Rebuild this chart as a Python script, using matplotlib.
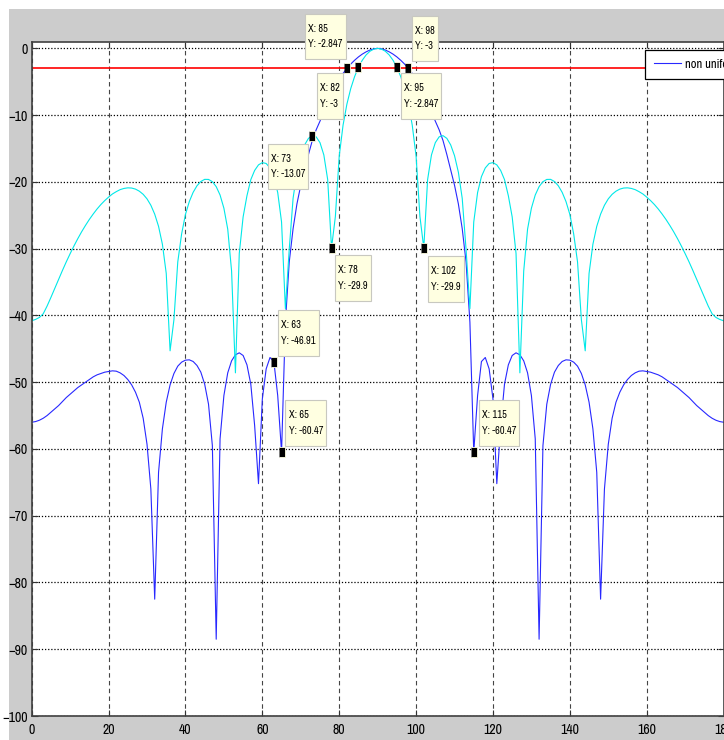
import numpy as np
import matplotlib
matplotlib.use("Agg")
import matplotlib.pyplot as plt
from matplotlib import font_manager
from matplotlib.patches import Rectangle

# sample angles (deg), one per degree
theta_deg = np.arange(0, 181)

# uniform array pattern (dB)
uniform_db = [
    -40.8, -40.6, -40.3, -39.75, -38.6, -37.3, -35.95, -34.6, -33.26, -31.97,
    -30.75, -29.59, -28.49, -27.46, -26.51, -25.62, -24.81, -24.06, -23.39, -22.80,
    -22.28, -21.81, -21.46, -21.16, -20.98, -20.89, -20.92, -21.08, -21.39, -21.86,
    -22.54, -23.5, -24.83, -26.66, -29.33, -33.7, -45.3, -40.65, -31.99, -27.8,
    -24.87, -22.95, -21.56, -20.58, -19.94, -19.62, -19.63, -19.97, -20.71, -21.96,
    -23.94, -27.08, -33.34, -48.6, -30.72, -25.25, -22.07, -19.66, -18.28, -17.45,
    -17.11, -17.24, -17.91, -19.21, -21.59, -26.01, -38.98, -30.09, -22.46, -18.55,
    -16.07, -14.46, -13.48, -13.07, -13.25, -14.12, -15.96, -19.65, -29.9, -25.19,
    -16.15, -11.50, -8.35, -6.02, -4.23, -2.847, -1.78, -0.98, -0.43, -0.11,
    0.0,
    -0.11, -0.43, -0.98, -1.78, -2.847, -4.23, -6.02, -8.35, -11.50, -16.15,
    -25.19, -29.9, -19.65, -15.96, -14.12, -13.25, -13.07, -13.48, -14.46, -16.07,
    -18.55, -22.46, -30.09, -38.98, -26.01, -21.59, -19.21, -17.91, -17.24, -17.11,
    -17.45, -18.28, -19.66, -22.07, -25.25, -30.72, -48.6, -33.34, -27.08, -23.94,
    -21.96, -20.71, -19.97, -19.63, -19.62, -19.94, -20.58, -21.56, -22.95, -24.87,
    -27.8, -31.99, -40.65, -45.3, -33.7, -29.33, -26.66, -24.83, -23.5, -22.54,
    -21.86, -21.39, -21.08, -20.92, -20.89, -20.98, -21.16, -21.46, -21.81, -22.28,
    -22.80, -23.39, -24.06, -24.81, -25.62, -26.51, -27.46, -28.49, -29.59, -30.75,
    -31.97, -33.26, -34.6, -35.95, -37.3, -38.6, -39.75, -40.3, -40.6, -40.8,
]

# non uniform array pattern (dB)
nonuniform_db = [
    -56.0, -55.9, -55.7, -55.4, -55.0, -54.5, -54.0, -53.5, -52.9, -52.3,
    -51.8, -51.3, -50.8, -50.4, -50.0, -49.6, -49.2, -48.9, -48.7, -48.5,
    -48.4, -48.3, -48.35, -48.6, -49.0, -49.6, -50.4, -51.5, -53.0, -55.4,
    -59.3, -66.0, -82.5, -63.5, -57.0, -53.0, -50.4, -48.7, -47.6, -47.0,
    -46.7, -46.65, -46.9, -47.5, -48.5, -50.3, -53.3, -59.5, -88.5, -58.5,
    -52.0, -48.6, -46.8, -45.9, -45.6, -46.0, -47.4, -50.3, -56.5, -65.2,
    -52.5, -48.0, -46.3, -46.91, -52.0, -60.47, -41.0, -32.0, -27.0, -23.3,
    -20.5, -18.2, -15.9, -13.8, -12.2, -10.9, -9.5, -8.1, -6.8, -5.6,
    -4.6, -3.75, -3.0, -2.35, -1.78, -1.28, -0.86, -0.52, -0.25, -0.07,
    0.0,
    -0.07, -0.25, -0.52, -0.86, -1.28, -1.78, -2.35, -3.0, -3.75, -4.6,
    -5.6, -6.8, -8.1, -9.5, -10.9, -12.2, -13.8, -15.9, -18.2, -20.5,
    -23.3, -27.0, -32.0, -41.0, -60.47, -52.0, -46.91, -46.3, -48.0, -52.5,
    -65.2, -56.5, -50.3, -47.4, -46.0, -45.6, -45.9, -46.8, -48.6, -52.0,
    -58.5, -88.5, -59.5, -53.3, -50.3, -48.5, -47.5, -46.9, -46.65, -46.7,
    -47.0, -47.6, -48.7, -50.4, -53.0, -57.0, -63.5, -82.5, -66.0, -59.3,
    -55.4, -53.0, -51.5, -50.4, -49.6, -49.0, -48.6, -48.35, -48.3, -48.4,
    -48.5, -48.7, -48.9, -49.2, -49.6, -50.0, -50.4, -50.8, -51.3, -51.8,
    -52.3, -52.9, -53.5, -54.0, -54.5, -55.0, -55.4, -55.7, -55.9, -56.0,
]

half_power_db = -3

# data tips shown on the figure
tip_x = [85, 82, 98, 95, 73, 78, 63, 65, 102, 115]
tip_y = [-2.847, -3, -3, -2.847, -13.07, -29.9, -46.91, -60.47, -29.9, -60.47]

x_ticks = [0, 20, 40, 60, 80, 100, 120, 140, 160, 180]
y_ticks = [0, -10, -20, -30, -40, -50, -60, -70, -80, -90, -100]

# where each tip box sits relative to its point (pixels)
tip_place = [(-16, 18, "right", "bottom"), (-7, -15, "right", "top"),
             (7, 17, "left", "bottom"), (7, -16, "left", "top"),
             (-7, -18, "right", "top"), (6.5, -17, "left", "top"),
             (7.5, 16, "left", "bottom"), (7, 16, "left", "bottom"),
             (7, -18, "left", "top"), (8, 16, "left", "bottom")]


def pick_narrow_font():
    # the screenshot text is squeezed, so use a narrow face if one is installed
    names = sorted({f.name for f in font_manager.fontManager.ttflist})
    for n in names:
        if "Narrow" in n or "Condensed" in n:
            return n, "normal", True
    for f in font_manager.fontManager.ttflist:
        if str(f.stretch) in ("condensed", "semi-condensed", "extra-condensed"):
            return f.name, "condensed", True
    return "Liberation Sans", "normal", False


font_name, font_stretch, is_narrow = pick_narrow_font()
plt.rcParams["font.family"] = [font_name, "DejaVu Sans"]
plt.rcParams["font.stretch"] = font_stretch
tick_fs = 10 if is_narrow else 8
tip_fs = 7.5 if is_narrow else 6
leg_fs = 9 if is_narrow else 7.5

W, H = 724, 740
fig = plt.figure(figsize=(W / 100, H / 100), dpi=100, facecolor="#cccccc")
# white strip of the screenshot border
fig.patches.append(Rectangle((0, 1 - 9 / H), 1, 9 / H, transform=fig.transFigure,
                             facecolor="white", edgecolor="none", zorder=-1))
fig.patches.append(Rectangle((0, 0), 9 / W, 1, transform=fig.transFigure,
                             facecolor="white", edgecolor="none", zorder=-1))

ax_l, ax_r, ax_t, ax_b = 31.7, 723.6, 41.7, 716.0
ax = fig.add_axes([ax_l / W, 1 - ax_b / H, (ax_r - ax_l) / W, (ax_b - ax_t) / H])
ax.set_facecolor("white")

ax.plot(theta_deg, nonuniform_db, color="#2828ff", lw=0.8, label="non uniform")
ax.plot(theta_deg, uniform_db, color="#00e8e8", lw=0.8)
ax.axhline(half_power_db, color="#ff0000", lw=1.2)

ax.set_xlim(0, 180)
ax.set_ylim(-100, 1)
ax.set_xticks(x_ticks)
ax.set_yticks(y_ticks)
ax.tick_params(direction="in", length=4, width=0.8, labelsize=tick_fs, top=True, right=True,
               colors="#333333", labelcolor="black")
ax.tick_params(axis="x", pad=5)
ax.tick_params(axis="y", pad=3)

ax.yaxis.grid(True, linestyle=(0, (1, 1.5)), color="black", lw=0.9)
ax.xaxis.grid(True, linestyle=(0, (4, 3)), color="#444444", lw=0.8)
for sp in ax.spines.values():
    sp.set_color("#404040")
    sp.set_linewidth(1.2)

# data tips
tall_square = [(-0.6, -1), (0.6, -1), (0.6, 1), (-0.6, 1)]
ax.plot(tip_x, tip_y, linestyle="none", marker=tall_square, markersize=7,
        markerfacecolor="black", markeredgecolor="#ffffe1", markeredgewidth=0.6, zorder=5)
for x, y, (dx, dy, ha, va) in zip(tip_x, tip_y, tip_place):
    ax.annotate(f"X: {x:g}\nY: {y:g}", xy=(x, y), xytext=(dx, dy),
                textcoords="offset pixels", ha=ha, va=va, fontsize=tip_fs,
                linespacing=1.7, multialignment="left", zorder=6,
                bbox=dict(boxstyle="square,pad=0.3", mutation_aspect=3.2,
                          fc="#ffffe1", ec="#c8c8c0", lw=0.8))

leg = ax.legend(loc="upper left", bbox_to_anchor=((645 - ax_l) / (ax_r - ax_l), (ax_b - 50) / (ax_b - ax_t)),
                borderaxespad=0, fontsize=leg_fs, fancybox=False, framealpha=1,
                edgecolor="black", handlelength=2.2, handletextpad=0.3, borderpad=0.7)
leg.get_frame().set_linewidth(0.9)

plt.savefig("out.png", dpi=100, facecolor=fig.get_facecolor())
